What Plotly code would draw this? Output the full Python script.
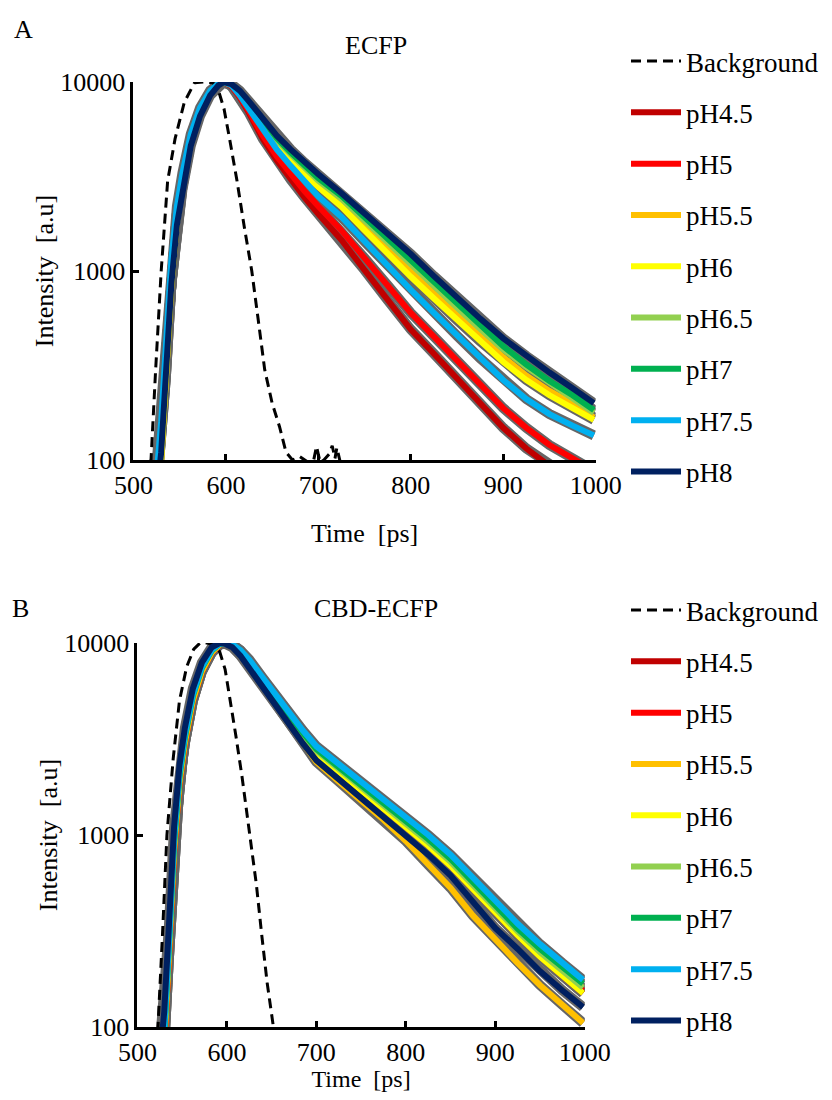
import plotly.graph_objects as go

# time axis shared by all pH traces (ps)
time_ps = [518, 522, 526, 530, 535, 541, 547, 553, 562, 572, 583, 592, 598,
           606, 615, 625, 640, 655, 670, 685, 700, 725, 750, 775, 800, 825,
           850, 875, 900, 925, 950, 975, 998]

ph_labels = ["pH4.5", "pH5", "pH5.5", "pH6", "pH6.5", "pH7", "pH7.5", "pH8"]
ph_colors = ["#C00000", "#FF0000", "#FFC000", "#FFFF00", "#92D050", "#00B050", "#00B0F0", "#002060"]

# panel A - ECFP
ecfp_ph45 = [30, 55, 80, 130, 330, 1000, 2000, 3000, 5000, 7000, 8800, 9700, 10000, 9500, 8300, 6850, 5000, 3850, 3050, 2450, 2000, 1460, 1010, 700, 490, 365, 270, 200, 148, 115, 93, 79, 68]
ecfp_ph5 = [30, 55, 80, 130, 330, 1000, 2000, 3000, 5000, 7000, 8800, 9700, 10000, 9550, 8400, 7000, 5200, 4050, 3250, 2650, 2200, 1640, 1170, 840, 600, 450, 335, 250, 188, 148, 120, 102, 88]
ecfp_ph55 = [25, 45, 65, 100, 270, 850, 1800, 2800, 4800, 6800, 8700, 9700, 10000, 9650, 8800, 7650, 6000, 4800, 4000, 3350, 2850, 2270, 1720, 1300, 990, 760, 585, 450, 350, 280, 232, 198, 168]
ecfp_ph6 = [25, 45, 65, 100, 270, 850, 1800, 2800, 4800, 6800, 8700, 9700, 10000, 9650, 8750, 7600, 5950, 4750, 3950, 3250, 2780, 2190, 1640, 1230, 932, 715, 550, 425, 330, 265, 220, 188, 163]
ecfp_ph65 = [30, 55, 80, 130, 330, 1000, 2000, 3000, 5000, 7000, 8800, 9700, 10000, 9700, 8850, 7750, 6150, 4950, 4150, 3500, 3000, 2410, 1840, 1410, 1080, 830, 640, 495, 385, 310, 255, 212, 178]
ecfp_ph7 = [30, 55, 80, 130, 330, 1000, 2000, 3000, 5000, 7000, 8800, 9700, 10000, 9700, 8900, 7800, 6250, 5050, 4250, 3600, 3100, 2500, 1920, 1470, 1130, 870, 670, 515, 400, 320, 262, 220, 184]
ecfp_ph75 = [35, 65, 95, 160, 400, 1150, 2200, 3300, 5300, 7300, 9000, 9800, 10000, 9600, 8500, 7200, 5500, 4400, 3600, 2950, 2480, 1930, 1430, 1065, 794, 600, 455, 345, 265, 210, 175, 152, 135]
ecfp_ph8 = [25, 45, 70, 110, 280, 850, 1750, 2700, 4600, 6600, 8500, 9600, 10000, 9750, 9000, 7900, 6400, 5200, 4400, 3750, 3250, 2580, 2020, 1590, 1230, 940, 720, 560, 440, 355, 290, 240, 200]

ecfp_bg_time = [510, 515, 519, 524, 530, 537, 545, 555, 566, 576, 586, 592, 598, 604, 612, 620, 628, 635, 642, 650, 658, 665,
                672, 680, 688, 695, 698, 702, 706, 712, 715, 718, 720, 724]
ecfp_bg = [30, 60, 100, 300, 1000, 3000, 5000, 7800, 9900, 10000, 9900, 9000, 7200, 5000, 3000, 1700, 1000, 550, 300, 200, 150, 110,
           100, 104, 98, 100, 118, 97, 100, 108, 119, 102, 116, 96]

# panel B - CBD-ECFP
cbd_ph45 = [18, 30, 50, 80, 220, 820, 1850, 3000, 5000, 7100, 8900, 9800, 10000, 9700, 9000, 7900, 6300, 5000, 4050, 3250, 2650, 2130, 1710, 1380, 1110, 880, 690, 525, 392, 300, 233, 185, 150]
cbd_ph5 = [18, 30, 50, 80, 220, 820, 1850, 3000, 5000, 7100, 8900, 9800, 10000, 9750, 9050, 7950, 6350, 5050, 4100, 3300, 2700, 2170, 1740, 1410, 1130, 900, 705, 535, 400, 305, 238, 190, 155]
cbd_ph55 = [18, 30, 50, 80, 220, 820, 1850, 3000, 5000, 7100, 8900, 9800, 10000, 9600, 8800, 7700, 6050, 4800, 3850, 3000, 2400, 1900, 1510, 1200, 930, 700, 530, 380, 285, 215, 165, 130, 105]
cbd_ph6 = [20, 35, 55, 90, 250, 900, 2000, 3200, 5300, 7400, 9100, 9900, 10000, 9750, 9000, 7900, 6300, 5000, 4050, 3250, 2650, 2130, 1710, 1380, 1110, 880, 690, 520, 390, 300, 232, 185, 150]
cbd_ph65 = [20, 35, 55, 90, 250, 900, 2000, 3200, 5300, 7400, 9100, 9900, 10000, 9800, 9100, 8050, 6450, 5150, 4150, 3350, 2750, 2210, 1780, 1440, 1160, 920, 725, 550, 410, 315, 245, 195, 160]
cbd_ph7 = [20, 35, 55, 90, 250, 900, 2000, 3200, 5300, 7400, 9100, 9900, 10000, 9800, 9150, 8100, 6500, 5200, 4200, 3400, 2800, 2260, 1820, 1480, 1190, 950, 750, 570, 425, 325, 255, 205, 168]
cbd_ph75 = [22, 38, 60, 95, 260, 950, 2100, 3300, 5400, 7500, 9200, 9900, 10000, 9850, 9200, 8200, 6600, 5300, 4300, 3500, 2900, 2350, 1900, 1550, 1250, 1000, 790, 600, 450, 345, 270, 215, 176]
cbd_ph8 = [30, 50, 75, 120, 320, 1100, 2300, 3600, 5800, 7900, 9500, 10000, 9900, 9500, 8600, 7400, 5800, 4600, 3700, 3000, 2450, 1950, 1560, 1250, 1000, 790, 615, 450, 327, 255, 195, 155, 127]

cbd_bg_time = [512, 518, 523, 528, 533, 540, 547, 555, 563, 570, 578, 585, 592, 598, 604, 610, 617, 626, 633, 639, 645, 652, 660]
cbd_bg = [30, 60, 100, 300, 1000, 2500, 5000, 7500, 9300, 10000, 10000, 9800, 9000, 7300, 5000, 3300, 2000, 1000, 550, 300, 170, 100, 60]

ecfp_series = [ecfp_ph45, ecfp_ph5, ecfp_ph55, ecfp_ph6, ecfp_ph65, ecfp_ph7, ecfp_ph75, ecfp_ph8]
cbd_series = [cbd_ph45, cbd_ph5, cbd_ph55, cbd_ph6, cbd_ph65, cbd_ph7, cbd_ph75, cbd_ph8]

# page has an 8px body margin, so the figure is sized to fit inside 832x1100
OFF = 8
W, H = 832 - 2 * OFF, 1100 - 2 * OFF
FONT = "Liberation Serif, Times New Roman, Times, serif"


def fx(px):
    return (px - OFF) / W


def fy(py):
    return 1 - (py - OFF) / H


fig = go.Figure()


def add_panel(series, bg_t, bg_v, xa, ya, leg):
    # grey error underlay
    for vals in series:
        fig.add_trace(go.Scatter(x=time_ps, y=vals, mode="lines", xaxis=xa, yaxis=ya,
                                 line=dict(color="#666666", width=10), showlegend=False,
                                 hoverinfo="skip"))
    fig.add_trace(go.Scatter(x=bg_t, y=bg_v, mode="lines", xaxis=xa, yaxis=ya,
                             name="Background", legend=leg, legendgroup=leg + "bg",
                             line=dict(color="black", width=3, dash="10px,6px")))
    for lab, col, vals in zip(ph_labels, ph_colors, series):
        fig.add_trace(go.Scatter(x=time_ps, y=vals, mode="lines", xaxis=xa, yaxis=ya,
                                 name=lab, legend=leg, legendgroup=leg + lab,
                                 line=dict(color=col, width=6)))


add_panel(ecfp_series, ecfp_bg_time, ecfp_bg, "x", "y", "legend")
add_panel(cbd_series, cbd_bg_time, cbd_bg, "x2", "y2", "legend2")

axis_font = dict(family=FONT, size=26, color="black")
xcommon = dict(range=[500, 1000], tickvals=[500, 600, 700, 800, 900, 1000], ticks="inside",
               ticklen=6, tickwidth=2.5, tickcolor="black", showline=True, linecolor="black",
               linewidth=3, showgrid=False, zeroline=False, tickfont=axis_font, automargin=False)
ycommon = dict(type="log", range=[2, 4], tickvals=[100, 1000, 10000], ticktext=["100", "1000", "10000"],
               ticks="inside", ticklen=6, tickwidth=2.5, tickcolor="black", showline=True,
               linecolor="black", linewidth=3, showgrid=False, zeroline=False, tickfont=axis_font,
               automargin=False)
legend_common = dict(xanchor="left", yanchor="top", tracegroupgap=13.2, itemwidth=50,
                     font=dict(family=FONT, size=27, color="black"), bgcolor="rgba(0,0,0,0)")

fig.update_layout(
    width=W, height=H,
    margin=dict(l=0, r=0, t=0, b=0),
    paper_bgcolor="white", plot_bgcolor="white",
    font=dict(family=FONT, color="black"),
    xaxis=dict(xcommon, domain=[fx(135), fx(603)], anchor="y",
               title=dict(text="Time\u00a0 [ps]", font=axis_font, standoff=25)),
    yaxis=dict(ycommon, domain=[fy(460), fy(82)], anchor="x",
               title=dict(text="Intensity\u00a0 [a.u]", font=axis_font, standoff=0)),
    xaxis2=dict(xcommon, domain=[fx(139), fx(592)], anchor="y2",
                title=dict(text="Time\u00a0 [ps]", font=dict(axis_font, size=24), standoff=4)),
    yaxis2=dict(ycommon, domain=[fy(1027), fy(643)], anchor="x2",
                title=dict(text="Intensity\u00a0 [a.u]", font=axis_font, standoff=0)),
    legend=dict(legend_common, x=fx(634), y=fy(37)),
    legend2=dict(legend_common, x=fx(634), y=fy(586)),
    annotations=[
        dict(text="A", x=fx(12), y=fy(30), xref="paper", yref="paper", xanchor="left",
             yanchor="middle", showarrow=False, font=dict(family=FONT, size=26)),
        dict(text="ECFP", x=fx(381), y=fy(46), xref="paper", yref="paper", xanchor="center",
             yanchor="middle", showarrow=False, font=dict(family=FONT, size=26)),
        dict(text="B", x=fx(10), y=fy(608), xref="paper", yref="paper", xanchor="left",
             yanchor="middle", showarrow=False, font=dict(family=FONT, size=26)),
        dict(text="CBD-ECFP", x=fx(381), y=fy(608), xref="paper", yref="paper", xanchor="center",
             yanchor="middle", showarrow=False, font=dict(family=FONT, size=26)),
    ],
)

fig.write_html("out.html")
